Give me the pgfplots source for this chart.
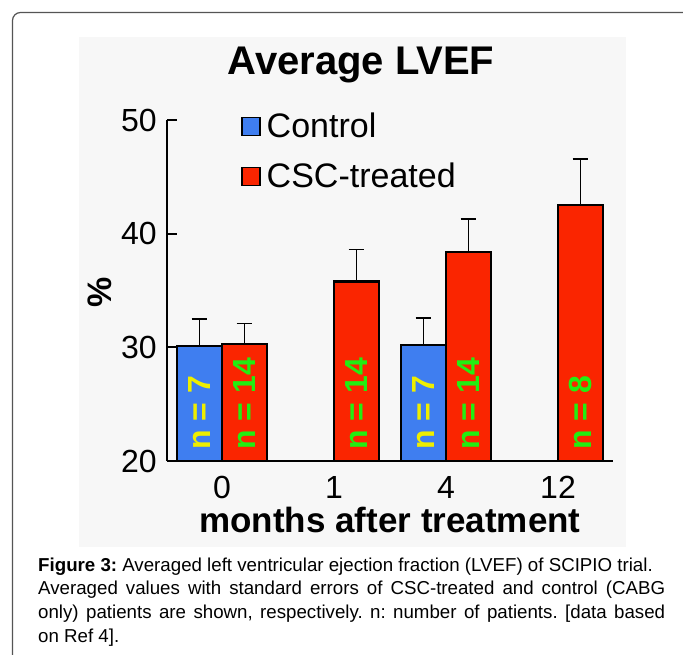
\documentclass[border=0pt]{standalone}
\usepackage{fontspec}
\setmainfont{Liberation Sans}
\usepackage{pgfplots}
\pgfplotsset{compat=1.18}
\usepackage{pgfplotstable}
\definecolor{ctrl}{HTML}{3F7EF0}
\definecolor{csc}{HTML}{FA2500}
\definecolor{panel}{HTML}{F7F7F7}
\definecolor{nyel}{HTML}{EEEE00}
\definecolor{ngrn}{HTML}{22EE11}
\definecolor{framec}{HTML}{555555}
\pgfplotsset{sqlegend/.style={legend image code/.code={\draw[##1,line width=1.5pt] (0pt,-9pt) rectangle (18pt,9pt);}}}

\pgfplotstableread{
x y e
0 30.1 2.4
2 30.2 2.4
}\ctrldata
\pgfplotstableread{
x y e
0 30.3 1.8
1 35.8 2.8
2 38.4 2.9
3 42.5 4.1
}\cscdata

\begin{document}
\begin{tikzpicture}
\useasboundingbox (0pt,0pt) rectangle (683pt,655pt);
\fill[white] (0pt,0pt) rectangle (683pt,655pt);
\begin{scope}
\clip (0pt,0pt) rectangle (683pt,655pt);
\draw[framec, line width=1.2pt, rounded corners=8pt] (12.5pt,-20pt) -- (12.5pt,642.5pt) -- (720pt,642.5pt);
\end{scope}
\fill[panel] (79pt,108pt) rectangle (626pt,618pt);
\node[anchor=base, font=\fontsize{40}{40}\selectfont\bfseries, inner sep=0pt] at (361pt,580pt) {Average LVEF};
\node[anchor=center, rotate=90, font=\fontsize{34}{34}\selectfont\bfseries, inner sep=0pt] at (100pt,363pt) {\%};
\node[anchor=base, font=\fontsize{35}{35}\selectfont\bfseries, inner sep=0pt] at (390pt,122pt) {months after treatment};
\begin{axis}[at={(167pt,194pt)}, anchor=south west, scale only axis, width=446pt, height=341pt,
 xmin=-0.491, xmax=3.491, ymin=20, ymax=50,
 axis lines=left, axis line style={-, line width=2.2pt, black},
 xtick={0,1,2,3}, xticklabels={0,1,4,12},
 ytick={20,30,40,50}, yticklabels={20,30,40,50},
 tick align=inside, major tick length=10pt,
 ytick style={line width=2.2pt, black},
 xtick style={draw=none},
 yticklabel style={font=\fontsize{32}{32}\selectfont, inner sep=0pt, xshift=-10pt},
 xticklabel style={font=\fontsize{32}{32}\selectfont, inner sep=0pt, yshift=-15pt},
 legend style={at={(rel axis cs:0.166,1.0205)}, anchor=north west, draw=none, fill=none, inner sep=0pt, row sep=24pt, column sep=6pt, font=\fontsize{34}{34}\selectfont, nodes={inner sep=0pt}},
 legend cell align=left,
]
\addplot[ybar, bar width=45pt, bar shift=0pt, fill=ctrl, draw=black, line width=2.3pt, sqlegend,
  error bars/.cd, y dir=plus, y explicit, error mark=-, error bar style={line width=1.8pt, black}, error mark options={rotate=90, mark size=7.8pt, line width=1.8pt, black}]
  table[x expr=\thisrow{x}-0.2009, y=y, y error=e] {\ctrldata};
\addlegendentry{Control}
\addplot[ybar, bar width=45pt, bar shift=0pt, fill=csc, draw=black, line width=2.3pt, sqlegend,
  error bars/.cd, y dir=plus, y explicit, error mark=-, error bar style={line width=1.8pt, black}, error mark options={rotate=90, mark size=7.8pt, line width=1.8pt, black}]
  table[x expr=\thisrow{x}+0.2009, y=y, y error=e] {\cscdata};
\addlegendentry{CSC-treated}
\node[rotate=90, anchor=west, text=nyel, font=\fontsize{32}{32}\selectfont\bfseries, inner sep=0pt] at ([xshift=-22.5pt]axis cs:0,21.0) {n = 7};
\node[rotate=90, anchor=west, text=nyel, font=\fontsize{32}{32}\selectfont\bfseries, inner sep=0pt] at ([xshift=-22.5pt]axis cs:2,21.0) {n = 7};
\node[rotate=90, anchor=west, text=ngrn, font=\fontsize{32}{32}\selectfont\bfseries, inner sep=0pt] at ([xshift=22.5pt]axis cs:0,21.0) {n = 14};
\node[rotate=90, anchor=west, text=ngrn, font=\fontsize{32}{32}\selectfont\bfseries, inner sep=0pt] at ([xshift=22.5pt]axis cs:1,21.0) {n = 14};
\node[rotate=90, anchor=west, text=ngrn, font=\fontsize{32}{32}\selectfont\bfseries, inner sep=0pt] at ([xshift=22.5pt]axis cs:2,21.0) {n = 14};
\node[rotate=90, anchor=west, text=ngrn, font=\fontsize{32}{32}\selectfont\bfseries, inner sep=0pt] at ([xshift=22.5pt]axis cs:3,21.0) {n = 8};
\end{axis}
\node[anchor=north west, text width=627pt, align=justify, inner sep=0pt, font=\fontsize{18.7}{23.7}\selectfont] at (38pt,97.5pt)
 {\frenchspacing\textbf{Figure 3:} Averaged left ventricular ejection fraction (LVEF) of SCIPIO trial.\\ Averaged values with standard errors of CSC-treated and control (CABG\linebreak only) patients are shown, respectively. n: number of patients. [data based\linebreak on Ref 4].};
\end{tikzpicture}
\end{document}
